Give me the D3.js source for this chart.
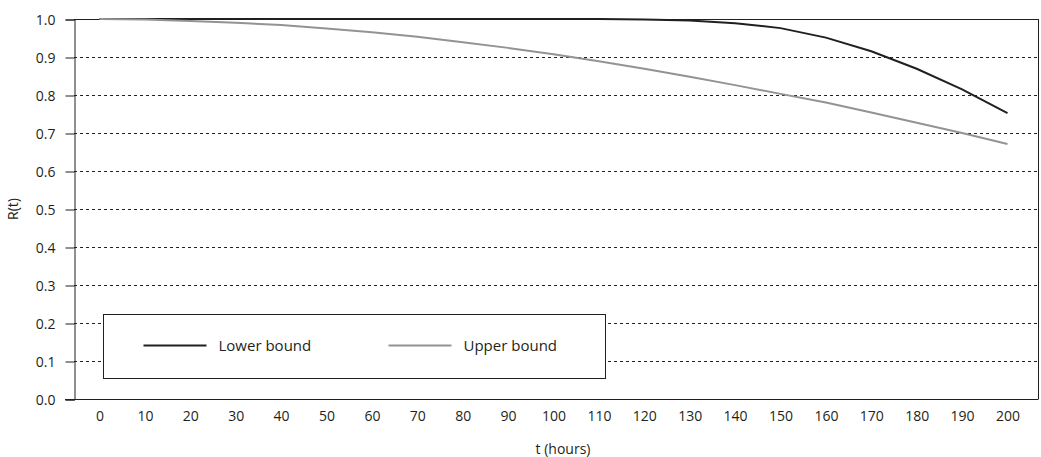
<!DOCTYPE html>
<html>
<head>
<meta charset="utf-8">
<script src="https://cdn.jsdelivr.net/npm/d3@7"></script>
<style>
  body { margin: 0; background: #fff; }
  svg text { font-family: "Open Sans", sans-serif; fill: #231f20; }
</style>
</head>
<body>
<div id="chart"></div>
<script>
var width = 1041;
var height = 457;

// data
var hours = [0, 10, 20, 30, 40, 50, 60, 70, 80, 90, 100, 110, 120, 130, 140, 150, 160, 170, 180, 190, 200];
var lowerBound = [1.0, 1.0, 1.0, 1.0, 1.0, 1.0, 1.0, 1.0, 1.0, 1.0, 1.0, 1.0, 0.999, 0.996, 0.989, 0.976, 0.951, 0.915, 0.869, 0.815, 0.752];
var upperBound = [1.0, 0.999, 0.995, 0.990, 0.984, 0.975, 0.965, 0.953, 0.939, 0.924, 0.907, 0.889, 0.869, 0.848, 0.826, 0.803, 0.780, 0.754, 0.727, 0.700, 0.671];
var yTicks = [0, 0.1, 0.2, 0.3, 0.4, 0.5, 0.6, 0.7, 0.8, 0.9, 1.0];
var seriesNames = ["Lower bound", "Upper bound"];
var seriesColors = ["#231f20", "#939393"];

var pL = 74, pR = 1038, pT = 19, pB = 399;

var svg = d3.select("#chart").append("svg")
	.attr("width", width)
	.attr("height", height);

var x = d3.scaleLinear().domain([0, 200]).range([99.5, 1007.5]);
var y = d3.scaleLinear().domain([0, 1]).range([pB, pT]);

// dashed grid lines
svg.append("g")
	.selectAll("line")
	.data(yTicks.filter(function(d) { return d > 0 && d < 1; }))
	.enter().append("line")
	.attr("x1", pL).attr("x2", pR)
	.attr("y1", function(d) { return y(d) + 0.5; })
	.attr("y2", function(d) { return y(d) + 0.5; })
	.attr("stroke", "#231f20")
	.attr("stroke-width", 1)
	.attr("stroke-dasharray", "3,3");

// frame: top and right
svg.append("line")
	.attr("x1", pL).attr("x2", pR + 0.5)
	.attr("y1", pT + 0.5).attr("y2", pT + 0.5)
	.attr("stroke", "#231f20");
svg.append("line")
	.attr("x1", pR + 0.5).attr("x2", pR + 0.5)
	.attr("y1", pT).attr("y2", pB)
	.attr("stroke", "#231f20");

// y axis
var yAxis = d3.axisLeft(y)
	.tickValues(yTicks)
	.tickSize(9)
	.tickPadding(10)
	.tickFormat(d3.format(".1f"));
var gy = svg.append("g")
	.attr("transform", "translate(" + (pL + 0.5) + ",0.5)")
	.call(yAxis);
gy.select(".domain").attr("stroke", "#231f20");
gy.selectAll(".tick line").attr("stroke", "#231f20");
gy.selectAll("text").style("font-size", "14px").attr("dy", "0.35em");

// x axis
var xAxis = d3.axisBottom(x)
	.tickValues(hours)
	.tickSize(0)
	.tickPadding(12)
	.tickFormat(d3.format("d"));
var gx = svg.append("g")
	.attr("transform", "translate(0," + (pB + 0.5) + ")")
	.call(xAxis);
gx.select(".domain").attr("d", "M" + (pL - 9) + ",0H" + (pR + 0.5)).attr("stroke", "#231f20");
gx.selectAll("text").style("font-size", "14px");

// lines
var line = d3.line()
	.x(function(d, i) { return x(hours[i]); })
	.y(function(d) { return y(d); });

[lowerBound, upperBound].forEach(function(s, i) {
	svg.append("path")
		.datum(s)
		.attr("d", line)
		.attr("fill", "none")
		.attr("stroke", seriesColors[i])
		.attr("stroke-width", 2);
});

// legend
var legend = svg.append("g").attr("transform", "translate(103.5,314.5)");
legend.append("rect")
	.attr("width", 502).attr("height", 64)
	.attr("fill", "#fff")
	.attr("stroke", "#231f20");
seriesNames.forEach(function(name, i) {
	var g = legend.append("g").attr("transform", "translate(" + (40 + i * 245) + ",31)");
	g.append("line")
		.attr("x1", 0).attr("x2", 63)
		.attr("stroke", seriesColors[i])
		.attr("stroke-width", 2);
	g.append("text")
		.attr("x", 75).attr("dy", "0.35em")
		.style("font-size", "15px")
		.text(name);
});

// axis titles
svg.append("text")
	.attr("transform", "translate(18," + ((pT + pB) / 2) + ") rotate(-90)")
	.attr("text-anchor", "middle")
	.style("font-size", "14px")
	.text("R(t)");
svg.append("text")
	.attr("x", 563).attr("y", 454)
	.attr("text-anchor", "middle")
	.style("font-size", "14px")
	.text("t (hours)");
</script>
</body>
</html>
